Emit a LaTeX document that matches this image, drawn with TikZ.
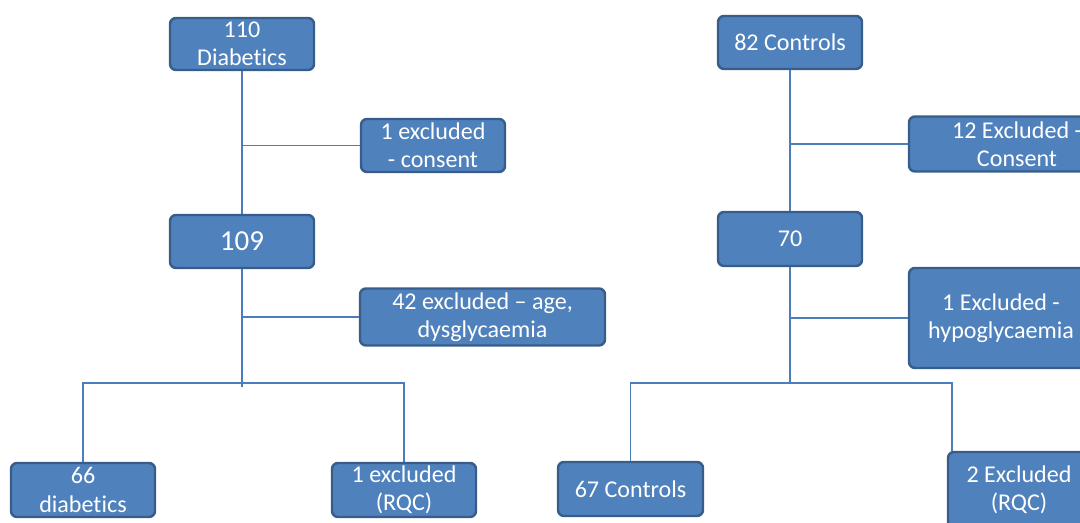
\documentclass[tikz,border=0pt]{standalone}
\usepackage{fontspec}
\setmainfont{Carlito}[Ligatures={TeX,NoCommon}]
\definecolor{boxfill}{HTML}{4F81BD}
\definecolor{boxline}{HTML}{385D8A}
\definecolor{linkcol}{HTML}{4A7EBB}

\begin{document}
\begin{tikzpicture}[
    flowbox/.style={rectangle, rounded corners=0.12cm, draw=boxline, line width=1.4pt,
        fill=boxfill, text=white, align=center, inner sep=0pt,
        font=\fontsize{13.7}{16}\selectfont},
    link/.style={draw=linkcol, line width=0.8pt}]
    \useasboundingbox (0,0) rectangle (21.6,10.46);

    % diabetics
    \node (d110) [flowbox, minimum width=2.88cm, minimum height=1.04cm] at (4.84,9.58) {110\\Diabetics};
    \node (ex1) [flowbox, minimum width=2.88cm, minimum height=1.06cm] at (8.66,7.55) {1 excluded\\- consent};
    \node (d109) [flowbox, minimum width=2.88cm, minimum height=1.06cm, font=\fontsize{16.5}{19}\selectfont] at (4.84,5.63) {109};
    \node (ex42) [flowbox, minimum width=4.9cm, minimum height=1.14cm] at (9.65,4.12) {42 excluded -- age,\\dysglycaemia};
    \node (d66) [flowbox, minimum width=2.88cm, minimum height=1.08cm] at (1.66,0.66) {66\\diabetics};
    \node (exq1) [flowbox, minimum width=2.88cm, minimum height=1.08cm] at (8.08,0.66) {1 excluded\\(RQC)};

    % controls
    \node (c82) [flowbox, minimum width=2.88cm, minimum height=1.06cm] at (15.8,9.61) {82 Controls};
    \node (ex12) [flowbox, minimum width=4.32cm, minimum height=1.1cm] at (20.34,7.58) {12 Excluded -\\Consent};
    \node (c70) [flowbox, minimum width=2.88cm, minimum height=1.08cm] at (15.8,5.68) {70};
    \node (exhypo) [flowbox, minimum width=3.68cm, minimum height=2.0cm] at (20.02,4.1) {1 Excluded -\\hypoglycaemia};
    \node (c67) [flowbox, minimum width=2.9cm, minimum height=1.08cm] at (12.61,0.68) {67 Controls};
    \node (exq2) [flowbox, minimum width=2.84cm, minimum height=1.52cm] at (20.38,0.66) {2 Excluded\\(RQC)};

    \coordinate (stemL) at (4.84,2.72);
    \coordinate (barL) at (4.84,2.80);
    \coordinate (stemR) at (15.8,2.80);
    \coordinate (dropR) at (19.04,2.80);

    \draw[link] (d110) -- (d109);
    \draw[link] (d110 |- ex1) -- (ex1);
    \draw[link] (d109) -- (stemL);
    \draw[link] (d109 |- ex42) -- (ex42);
    \draw[link] (d66) |- (barL) -| (exq1);

    \draw[link] (c82) -- (c70);
    \draw[link] (c82 |- ex12) -- (ex12);
    \draw[link] (c70) -- (stemR);
    \draw[link] (c70 |- exhypo) -- (exhypo);
    \draw[link] (c67) |- (stemR) -- (dropR) -- (dropR |- exq2.north);
\end{tikzpicture}
\end{document}
